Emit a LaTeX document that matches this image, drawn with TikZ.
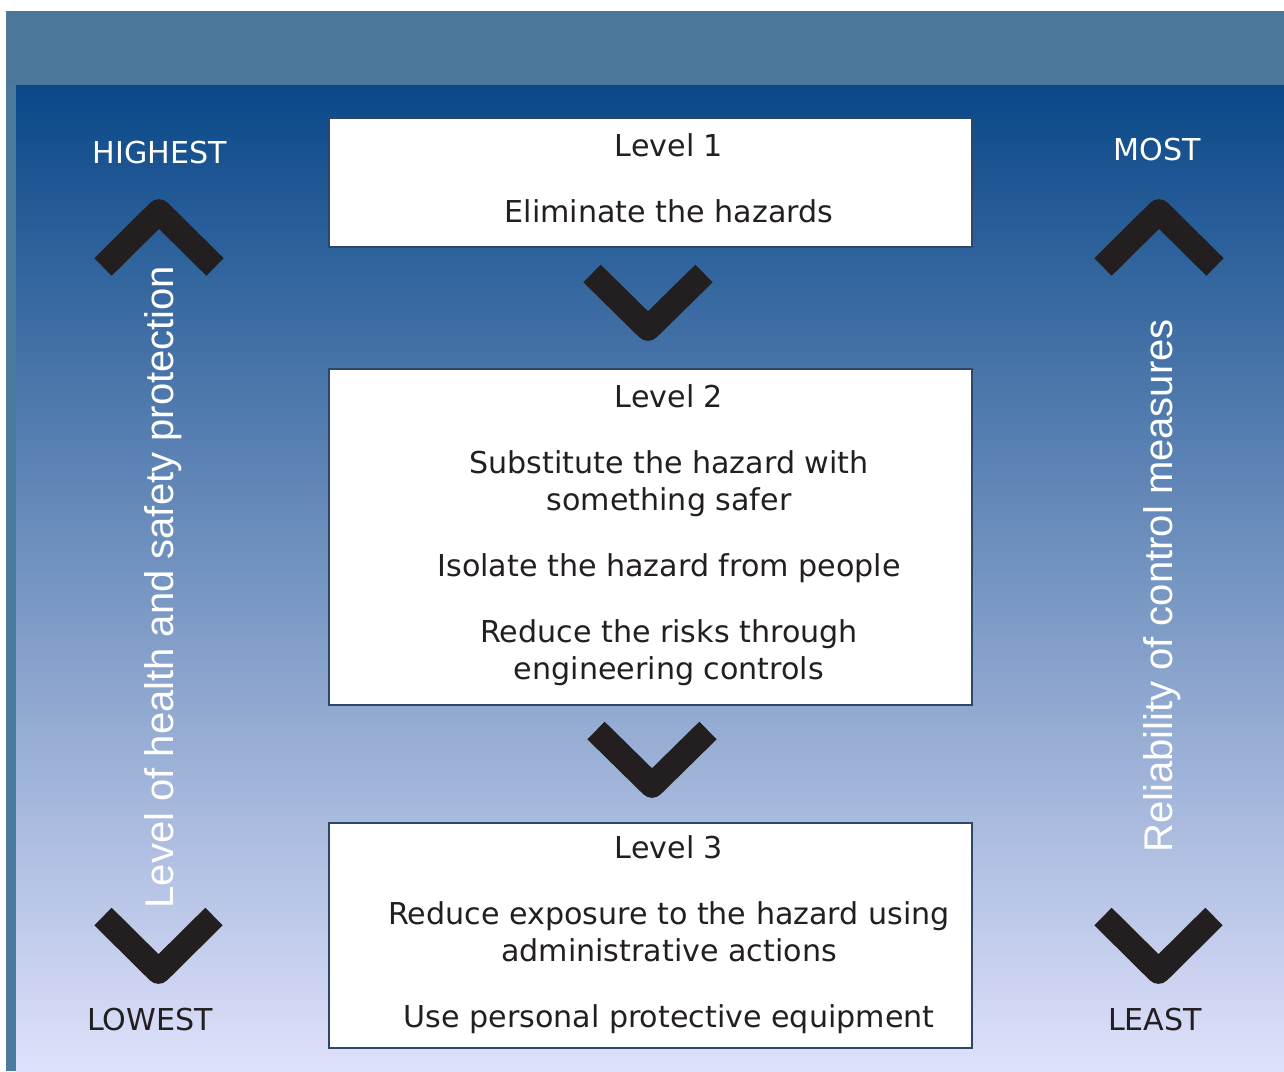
\documentclass[tikz,border=0pt]{standalone}
\usepackage{fontspec}
\setmainfont{DejaVu Sans}
\newfontfamily\arialfont{Liberation Sans}

\definecolor{bandblue}{RGB}{74,119,154}
\definecolor{stripblue}{RGB}{74,122,157}
\definecolor{topblue}{RGB}{10,72,136}
\definecolor{bottomblue}{RGB}{223,225,251}
\definecolor{boxedge}{RGB}{44,72,102}
\definecolor{inkblack}{RGB}{35,31,32}

\tikzset{every picture/.style={line width=0.75pt}}
\tikzset{
  levelbox/.style={draw=boxedge, fill=white, line width=1.5pt, minimum width=482.25pt, inner sep=0pt},
  leveltext/.style={align=center, inner sep=0.75pt, text=inkblack, font=\fontsize{22.6}{27.75}\selectfont},
  chevron/.style={draw=inkblack, line width=18.5pt, line join=round},
  endlabel/.style={inner sep=0.75pt, font=\fontsize{22.6}{27}\selectfont},
  sidelabel/.style={inner sep=0.75pt, rotate=90, text=white, font=\arialfont\fontsize{30}{36}\selectfont}
}

\begin{document}
\begin{tikzpicture}[x=0.75pt,y=0.75pt,yscale=-1,xscale=1]
\useasboundingbox (0,0) rectangle (1284,1071);

%Shape: Rectangle [top band]
\fill [bandblue] (6,11) rectangle (1284,85) ;
%Shape: Rectangle [left strip]
\fill [stripblue] (6,85) rectangle (16,1071) ;
%Shape: Rectangle [gradient panel]
\shade [top color=topblue, bottom color=bottomblue] (16,85) rectangle (1284,1071) ;

%Shape: Boxes
\node [levelbox, minimum height=96.75pt] (level1) at (650.5,182.5) {};
\node [levelbox, minimum height=252pt] (level2) at (650.5,537) {};
\node [levelbox, minimum height=168.75pt] (level3) at (650.5,935.5) {};

%Shape: Chevrons between boxes
\draw [chevron] (592,273.5) -- (648,328.5) -- (704,273.5) ;
\draw [chevron] (596,730.5) -- (652,785.5) -- (708,730.5) ;
%Shape: Chevrons left
\draw [chevron] (103,267) -- (159,211.5) -- (215,267) ;
\draw [chevron] (103,916.5) -- (158.5,971.5) -- (214,916.5) ;
%Shape: Chevrons right
\draw [chevron] (1103,267) -- (1159,211.5) -- (1215,267) ;
\draw [chevron] (1103,916.5) -- (1158.5,971.5) -- (1214,916.5) ;

% Text Node
\node [leveltext] (text1) at (669,178) {Level 1\\[21.75pt]Eliminate the hazards};
% Text Node
\node [leveltext] (text2) at (669,535) {Level 2\\[21.75pt]Substitute the hazard with\\something safer\\[21.75pt]Isolate the hazard from people\\[21.75pt]Reduce the risks through\\engineering controls};
% Text Node
\node [leveltext] (text3) at (669,935) {Level 3\\[21.75pt]Reduce exposure to the hazard using\\administrative actions\\[21.75pt]Use personal protective equipment};

% Text Node
\node [endlabel, text=white] (highest) at (160,153) {HIGHEST};
% Text Node
\node [endlabel, text=white] (most) at (1157,150) {MOST};
% Text Node
\node [endlabel, text=inkblack] (lowest) at (150,1020) {LOWEST};
% Text Node
\node [endlabel, text=inkblack] (least) at (1155,1020) {LEAST};

% Text Node
\node [sidelabel] (protection) at (163,587) {Level of health and safety protection};
% Text Node
\node [sidelabel] (reliability) at (1162,586) {Reliability of control measures};

\end{tikzpicture}
\end{document}
